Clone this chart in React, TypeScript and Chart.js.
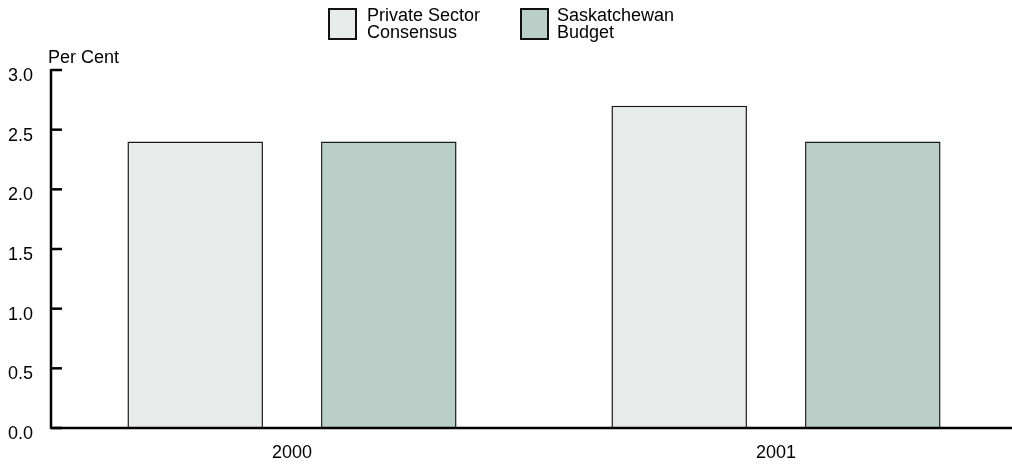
import React, { useEffect, useRef } from "react";
import { Chart, registerables } from "chart.js";

Chart.register(...registerables);

const categories = ["2000", "2001"];
const privateSector = [2.4, 2.7];
const saskBudget = [2.4, 2.4];
const yTickLabels = ["0.0", "0.5", "1.0", "1.5", "2.0", "2.5", "3.0"];
const legendLabels = [
  ["Private Sector", "Consensus"],
  ["Saskatchewan", "Budget"],
];
const axisTitle = "Per Cent";

const FONT = '"Liberation Sans", Arial, Helvetica, sans-serif';
const FS = 18;
const colors = ["#e7ecea", "#b9cfc7"];

const overlay = {
  id: "overlay",
  afterDatasetsDraw(chart: any) {
    const { ctx, chartArea, scales } = chart;
    const y = scales.y;
    ctx.save();
    ctx.strokeStyle = "#000";
    ctx.lineCap = "butt";
    // y axis
    const ax = chartArea.left + 1;
    ctx.lineWidth = 2.5;
    ctx.beginPath();
    ctx.moveTo(ax, y.getPixelForValue(3) - 1);
    ctx.lineTo(ax, y.getPixelForValue(0) + 1);
    ctx.stroke();
    // ticks
    ctx.lineWidth = 2.5;
    yTickLabels.forEach((t) => {
      const py = y.getPixelForValue(parseFloat(t));
      ctx.beginPath();
      ctx.moveTo(ax, py);
      ctx.lineTo(ax + 11, py);
      ctx.stroke();
    });
    // x axis
    const py0 = y.getPixelForValue(0);
    ctx.lineWidth = 2.5;
    ctx.beginPath();
    ctx.moveTo(ax, py0);
    ctx.lineTo(chart.width, py0);
    ctx.stroke();

    // axis title
    ctx.fillStyle = "#000";
    ctx.font = `${FS}px ${FONT}`;
    ctx.textAlign = "left";
    ctx.textBaseline = "alphabetic";
    ctx.fillText(axisTitle, 48, 63);

    // legend
    const boxX = [328, 520];
    const textX = [367, 557];
    legendLabels.forEach((lines, i) => {
      const bx = boxX[i];
      ctx.fillStyle = colors[i];
      ctx.fillRect(bx, 8, 29, 32);
      ctx.lineWidth = 2;
      ctx.strokeStyle = "#111";
      ctx.strokeRect(bx + 1, 9, 27, 30);
      ctx.fillStyle = "#000";
      lines.forEach((ln, j) => {
        ctx.fillText(ln, textX[i], 21 + j * 17);
      });
    });
    ctx.restore();
  },
};

export default function App() {
  const ref = useRef<HTMLCanvasElement>(null);
  useEffect(() => {
    const chart = new Chart(ref.current!, {
      type: "bar",
      data: {
        labels: categories,
        datasets: [
          {
            label: "Private Sector Consensus",
            data: privateSector,
            backgroundColor: colors[0],
            borderColor: "#1a1a1a",
            borderWidth: 1.5,
          },
          {
            label: "Saskatchewan Budget",
            data: saskBudget,
            backgroundColor: colors[1],
            borderColor: "#1a1a1a",
            borderWidth: 1.5,
          },
        ],
      },
      options: {
        responsive: false,
        animation: false,
        devicePixelRatio: 1,
        layout: { padding: { top: 70, right: 0, left: 0, bottom: 0 } },
        datasets: { bar: { categoryPercentage: 0.8, barPercentage: 0.7 } },
        plugins: { legend: { display: false }, tooltip: { enabled: false } },
        scales: {
          x: {
            grid: { display: false, drawTicks: false },
            border: { display: false },
            ticks: {
              color: "#000",
              font: { family: FONT, size: FS },
              padding: 14,
            },
            afterFit: (s: any) => {
              s.height = 36;
            },
          },
          y: {
            min: 0,
            max: 3,
            grid: { display: false, drawTicks: false },
            border: { display: false },
            ticks: {
              stepSize: 0.5,
              color: "#000",
              font: { family: FONT, size: FS },
              padding: 17,
              labelOffset: 6,
              callback: (_v: any, i: number) => yTickLabels[i],
            },
            afterFit: (s: any) => {
              s.width = 50;
            },
          },
        },
      },
      plugins: [overlay],
    });
    return () => chart.destroy();
  }, []);
  return (
    <div
      style={{
        position: "fixed",
        left: 0,
        top: 0,
        width: 1012,
        height: 464,
        overflow: "hidden",
        background: "#fff",
      }}
    >
      <canvas ref={ref} width={1018} height={464} style={{ display: "block" }} />
    </div>
  );
}
